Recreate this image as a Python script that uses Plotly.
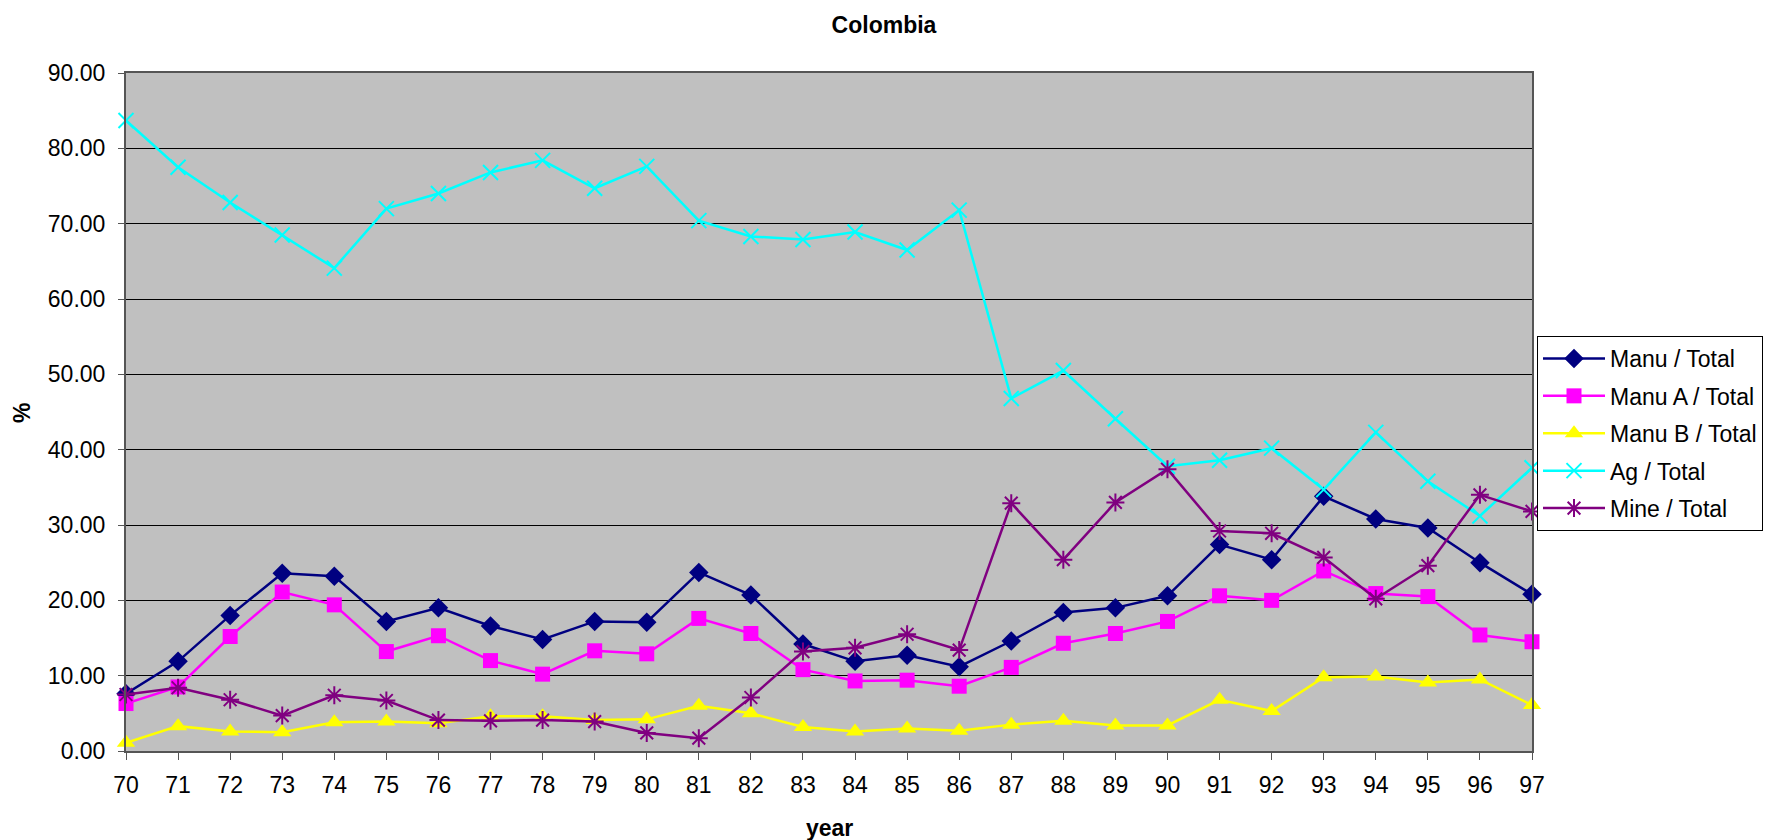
import plotly.graph_objects as go

FONT = "Arial, Liberation Sans, sans-serif"

years = list(range(70, 98))

manu_total = [7.6, 11.9, 18.0, 23.6, 23.2, 17.2, 19.0, 16.6, 14.8, 17.2,
              17.1, 23.7, 20.7, 14.2, 11.9, 12.7, 11.2, 14.6, 18.4, 19.0,
              20.6, 27.4, 25.4, 33.8, 30.8, 29.6, 25.0, 20.8]
manu_a_total = [6.3, 8.5, 15.2, 21.1, 19.4, 13.2, 15.3, 12.0, 10.2, 13.3,
                12.9, 17.6, 15.6, 10.8, 9.3, 9.4, 8.6, 11.1, 14.3, 15.6,
                17.2, 20.6, 20.0, 23.9, 20.9, 20.5, 15.4, 14.5]
manu_b_total = [1.1, 3.3, 2.6, 2.5, 3.8, 3.9, 3.7, 4.6, 4.6, 4.1,
                4.2, 6.0, 5.0, 3.2, 2.6, 3.0, 2.7, 3.5, 4.0, 3.4,
                3.4, 6.8, 5.3, 9.8, 9.9, 9.1, 9.5, 6.1]
ag_total = [83.7, 77.5, 72.8, 68.5, 64.1, 72.0, 74.0, 76.8, 78.4, 74.7,
            77.6, 70.4, 68.3, 67.9, 68.9, 66.5, 71.8, 46.8, 50.5, 44.1,
            37.8, 38.6, 40.2, 34.7, 42.3, 35.8, 31.2, 37.6]
mine_total = [7.5, 8.4, 6.8, 4.7, 7.4, 6.7, 4.1, 4.0, 4.1, 3.9,
              2.4, 1.7, 7.1, 13.2, 13.7, 15.5, 13.4, 32.9, 25.4, 33.0,
              37.4, 29.2, 28.9, 25.7, 20.2, 24.6, 34.0, 31.8]

series = [
    ("Manu / Total", manu_total, "#000080", dict(symbol="diamond", size=15)),
    ("Manu A / Total", manu_a_total, "#FF00FF", dict(symbol="square", size=15)),
    ("Manu B / Total", manu_b_total, "#FFFF00", dict(symbol="triangle-up", size=16)),
    ("Ag / Total", ag_total, "#00FFFF", dict(symbol="x-thin-open", size=15)),
    ("Mine / Total", mine_total, "#800080", dict(symbol="asterisk-open", size=15)),
]

# plot area in pixels (from the reference)
L, R, T, B = 126, 1532, 73, 751
W, H = 1768, 840
PW, PH = R - L, B - T

fig = go.Figure()
for name, values, color, mk in series:
    marker = dict(color=color, **mk)
    if mk["symbol"].endswith("open"):
        marker["line"] = dict(color=color, width=2)
    fig.add_trace(
        go.Scatter(
            x=years,
            y=values,
            name=name,
            legendgroup=name,
            mode="lines+markers",
            line=dict(color=color, width=2.5),
            marker=marker,
            cliponaxis=False,
        )
    )

fig.update_layout(
    width=W,
    height=H,
    margin=dict(l=L, r=W - R, t=T, b=H - B, autoexpand=False),
    paper_bgcolor="white",
    plot_bgcolor="#C0C0C0",
    font=dict(family=FONT, size=23, color="black"),
    title=dict(
        text="<b>Colombia</b>",
        x=0.5,
        xref="container",
        xanchor="center",
        y=1 - 25 / H,
        yref="container",
        yanchor="middle",
        font=dict(family=FONT, size=23, color="black"),
    ),
    legend=dict(
        x=(1537 - L) / PW,
        y=(B - 336) / PH,
        xanchor="left",
        yanchor="top",
        bgcolor="white",
        bordercolor="black",
        borderwidth=1,
        font=dict(family=FONT, size=23, color="black"),
        tracegroupgap=4.5,
        itemwidth=62,
    ),
    showlegend=True,
)

fig.update_xaxes(
    range=[70, 97],
    tickmode="array",
    tickvals=years,
    ticktext=[str(y) for y in years],
    showgrid=False,
    zeroline=False,
    showline=True,
    linecolor="#555555",
    linewidth=2,
    mirror=True,
    ticks="outside",
    ticklen=7,
    tickcolor="#555555",
    ticklabelstandoff=5,
)
fig.update_yaxes(
    range=[0, 90],
    dtick=10,
    tickformat=".2f",
    showgrid=True,
    gridcolor="black",
    gridwidth=1,
    zeroline=False,
    showline=True,
    linecolor="#555555",
    linewidth=2,
    mirror=True,
    ticks="outside",
    ticklen=6,
    tickcolor="#555555",
    ticklabelstandoff=8,
)

fig.add_annotation(
    text="<b>%</b>", x=(22 - L) / PW, y=(B - 413) / PH, xref="paper", yref="paper",
    xanchor="center", yanchor="middle",
    showarrow=False, textangle=-90, font=dict(family=FONT, size=23),
)
fig.add_annotation(
    text="<b>year</b>", x=0.5, y=(B - 828) / PH, xref="paper", yref="paper",
    xanchor="center", yanchor="middle",
    showarrow=False, font=dict(family=FONT, size=23),
)

# the page body has an 8px default margin; drop it so the figure sits at 0,0
fig.write_html(
    "out.html",
    config={"displayModeBar": False},
    post_script="document.body.style.margin='0px';",
)
